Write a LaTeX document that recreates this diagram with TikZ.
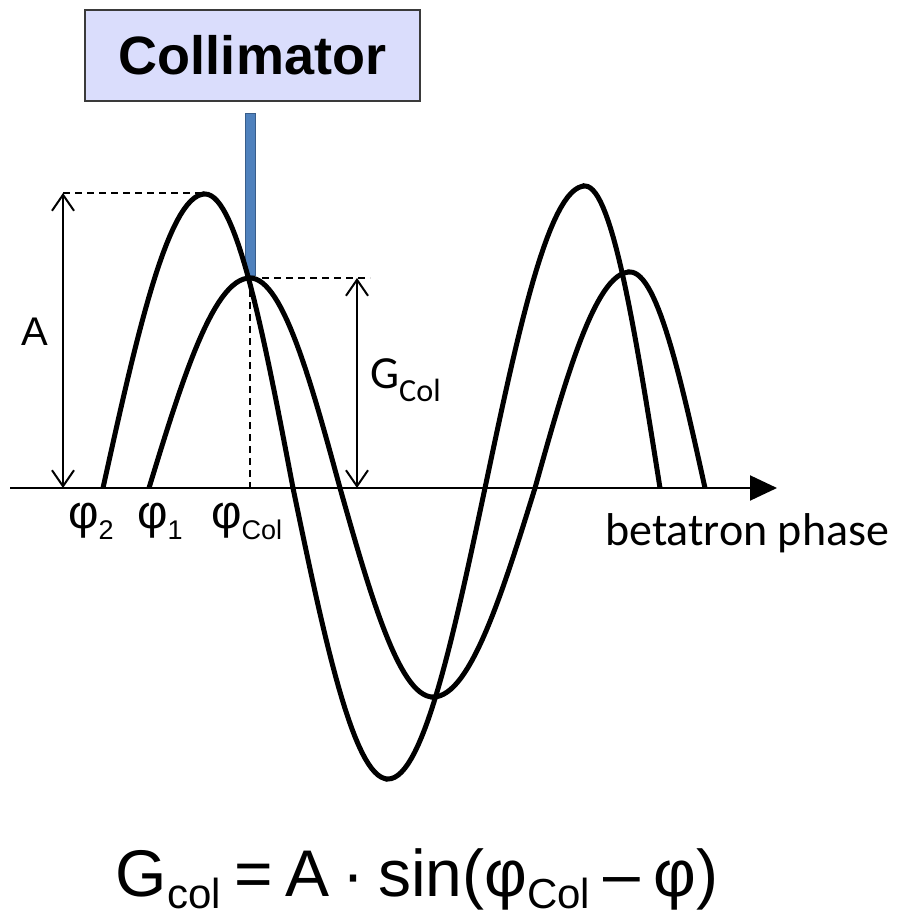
\documentclass[tikz,border=0pt]{standalone}
\usepackage{fontspec}
\setmainfont{Liberation Sans}
\newfontfamily\calibri{Carlito}
\usetikzlibrary{arrows.meta}
\definecolor{boxfill}{HTML}{DADDFC}
\definecolor{boxline}{HTML}{3A3A3A}
\definecolor{jawblue}{HTML}{4F81BD}
\definecolor{jawline}{HTML}{385D8A}
\tikzstyle{wave}=[line width=5pt]
\tikzstyle{guide}=[line width=1.5pt, dash pattern=on 7pt off 5pt]
\tikzstyle{measure}=[line width=2pt, {Straight Barb[length=16pt,width=22pt]}-{Straight Barb[length=16pt,width=22pt]}]
\tikzstyle{label}=[inner sep=0pt, font=\fontsize{40}{48}\selectfont]
\tikzstyle{phase}=[inner sep=0pt, anchor=base west, font=\fontsize{47}{54}\selectfont]
% half wave: start zero, peak x, end zero, peak y (axis at y=488)
\newcommand{\hump}[4]{%
  -- plot[domain=0:90, samples=30] ({#1+(#2-#1)*\x/90}, {488+(#4-488)*sin(\x)})
  -- plot[domain=0:90, samples=30] ({#2+(#3-#2)*\x/90}, {488+(#4-488)*cos(\x)})}
\newcommand{\phisub}[1]{\raisebox{-11pt}{\fontsize{27}{30}\selectfont #1}}
\newcommand{\lsub}[1]{\raisebox{-12pt}{\fontsize{42}{48}\selectfont #1}}
\newcommand{\fgap}{\hspace{0.2em}}

\begin{document}
\begin{tikzpicture}[x=1pt, y=-1pt]
  \useasboundingbox (0,0) rectangle (899,920);

  % collimator
  \node[draw=boxline, fill=boxfill, line width=1.5pt, minimum width=335pt, minimum height=91pt,
        font=\fontsize{54}{60}\selectfont\bfseries] (collimator) at (252.5,55.5) {Collimator};
  \draw[fill=jawblue, draw=jawline, line width=1pt] (245,114) rectangle (255,275);

  % axis
  \coordinate (origin) at (10,488);
  \coordinate (axisend) at (777,488);
  \draw[line width=2pt, -{Triangle[length=27pt,width=25pt]}] (origin) -- (axisend);

  % trajectories
  \draw[wave] (103,488) \hump{103}{205}{293}{194} \hump{293}{388}{485}{779} \hump{485}{585}{660}{186};
  \draw[wave] (149,488) \hump{149}{250}{340}{278} \hump{340}{433}{535}{697} \hump{535}{630}{705}{272};

  % amplitudes
  \coordinate (peakA) at (203,193);
  \coordinate (topA) at (63,193);
  \coordinate (baseA) at (63,488);
  \coordinate (colpeak) at (250,278);
  \coordinate (colfoot) at (250,488);
  \coordinate (topG) at (357,278);
  \coordinate (baseG) at (357,488);
  \coordinate (endG) at (370,278);
  \draw[guide] (topA) -- (peakA);
  \draw[guide] (colpeak) -- (endG);
  \draw[guide] (colpeak) -- (colfoot);
  \draw[measure] (baseA) -- (topA);
  \draw[measure] (baseG) -- (topG);

  % labels
  \node[label] (amp) at (35,332) {A};
  \node[phase] (phi2) at (68,528) {φ\phisub{2}};
  \node[phase] (phi1) at (137,528) {φ\phisub{1}};
  \node[phase] (phicol) at (211,528) {φ\phisub{Col}};
  \node[label, anchor=base west, font=\calibri\fontsize{46}{54}\selectfont] (gcol) at (370,388) {G\textsubscript{Col}};
  \node[label, anchor=base west, font=\calibri\fontsize{46}{54}\selectfont] (phase) at (605,545) {betatron phase};
  \node[label, anchor=base, font=\fontsize{66}{80}\selectfont] (formula) at (417,896)
    {G\lsub{col}\fgap=\fgap A\fgap·\fgap sin(φ\lsub{Col}\fgap–\fgap φ)};
\end{tikzpicture}
\end{document}
